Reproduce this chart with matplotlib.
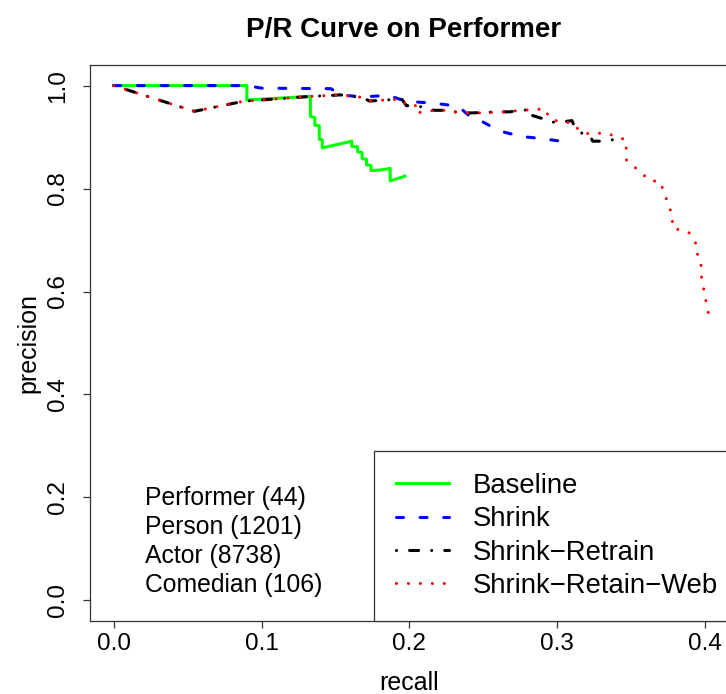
import matplotlib
matplotlib.use("Agg")
import matplotlib.pyplot as plt

plt.rcParams["font.family"] = ["Liberation Sans", "DejaVu Sans"]
plt.rcParams["lines.scale_dashes"] = False

# --- Data ------------------------------------------------------------------
baseline_recall = [0, 0.09, 0.09, 0.133, 0.133, 0.136, 0.136, 0.139, 0.139, 0.141,
                   0.141, 0.161, 0.161, 0.165, 0.165, 0.168, 0.168, 0.171, 0.171,
                   0.174, 0.174, 0.180, 0.187, 0.187, 0.197]
baseline_prec = [1.0, 1.0, 0.972, 0.979, 0.940, 0.938, 0.923, 0.922, 0.896, 0.895,
                 0.879, 0.892, 0.882, 0.881, 0.871, 0.870, 0.858, 0.857, 0.846,
                 0.845, 0.835, 0.836, 0.839, 0.815, 0.824]

shrink_recall = [0, 0.09, 0.10, 0.147, 0.153, 0.168, 0.186, 0.194, 0.200, 0.216,
                 0.233, 0.241, 0.247, 0.255, 0.262, 0.276, 0.290, 0.300, 0.309]
shrink_prec = [1.0, 1.0, 0.995, 0.994, 0.982, 0.978, 0.981, 0.973, 0.969, 0.966,
               0.960, 0.940, 0.934, 0.921, 0.911, 0.901, 0.897, 0.893, 0.887]

retrain_recall = [0, 0.0545, 0.0876, 0.133, 0.148, 0.153, 0.168, 0.173, 0.189, 0.195,
                  0.198, 0.205, 0.217, 0.224, 0.235, 0.243, 0.259, 0.268, 0.274,
                  0.283, 0.283, 0.290, 0.295, 0.302, 0.310, 0.312, 0.316, 0.322,
                  0.324, 0.332, 0.340]
retrain_prec = [1.0, 0.950, 0.9695, 0.979, 0.981, 0.982, 0.977, 0.970, 0.973, 0.973,
                0.961, 0.961, 0.952, 0.952, 0.947, 0.947, 0.949, 0.949, 0.952,
                0.953, 0.942, 0.936, 0.929, 0.929, 0.932, 0.918, 0.908, 0.905,
                0.892, 0.892, 0.896]

web_recall = [0, 0.0545, 0.0876, 0.133, 0.148, 0.153, 0.168, 0.173, 0.189, 0.195,
              0.198, 0.205, 0.205, 0.217, 0.224, 0.235, 0.243, 0.251, 0.259, 0.268,
              0.274, 0.283, 0.292, 0.2945, 0.302, 0.310, 0.316, 0.322, 0.332, 0.338,
              0.344, 0.3467, 0.3467, 0.363, 0.3696, 0.378, 0.378, 0.389, 0.395,
              0.395, 0.3977, 0.3977, 0.4007, 0.4034]
web_prec = [1.0, 0.950, 0.9695, 0.979, 0.981, 0.982, 0.977, 0.970, 0.973, 0.973,
            0.961, 0.961, 0.947, 0.952, 0.952, 0.947, 0.947, 0.947, 0.949, 0.949,
            0.952, 0.953, 0.955, 0.937, 0.929, 0.928, 0.910, 0.906, 0.908, 0.903,
            0.897, 0.894, 0.856, 0.815, 0.814, 0.747, 0.7235, 0.715, 0.688,
            0.663, 0.649, 0.626, 0.581, 0.543]

class_labels = ["Performer (44)", "Person (1201)", "Actor (8738)", "Comedian (106)"]
x_ticks = [0.0, 0.1, 0.2, 0.3, 0.4]
y_ticks = [0.0, 0.2, 0.4, 0.6, 0.8, 1.0]

# --- Figure -----------------------------------------------------------------
W, H = 726, 694
fig = plt.figure(figsize=(W / 100, H / 100), dpi=100)
ax_w = 638.4
ax = fig.add_axes([90.2 / W, 73 / H, ax_w / W, 556 / H])

LW = 2.2
ax.plot(baseline_recall, baseline_prec, color="#00FF00", lw=LW, label="Baseline")
ax.plot(shrink_recall, shrink_prec, color="#0000FF", lw=LW, label="Shrink",
        dashes=(5.0, 12.0), dash_capstyle="round")
ax.plot(retrain_recall, retrain_prec, color="black", lw=LW, label="Shrink\u2212Retrain",
        dashes=(0.01, 9.4, 6.5, 9.4), dash_capstyle="round")
ax.plot(web_recall, web_prec, color="#FF0000", lw=LW, label="Shrink\u2212Retain\u2212Web",
        dashes=(0.01, 8.6), dash_capstyle="round")

ax.set_xlim(-0.016, 0.416)
ax.set_ylim(-0.04, 1.04)
ax.set_xticks(x_ticks)
ax.set_xticklabels([f"{v:.1f}" for v in x_ticks])
ax.set_yticks(y_ticks)
ax.set_yticklabels([f"{v:.1f}" for v in y_ticks], rotation=90, va="center")
ax.tick_params(axis="both", direction="out", length=5, width=0.9, labelsize=17.5,
               color="#333333")
ax.tick_params(axis="x", pad=4)
ax.tick_params(axis="y", pad=10)
for sp in ax.spines.values():
    sp.set_linewidth(0.9)
    sp.set_color("#333333")

ax.set_title("P/R Curve on Performer", fontsize=20, fontweight="bold", pad=20,
             x=0.4915)
ax.set_xlabel("recall", fontsize=18, labelpad=11)
ax.set_ylabel("precision", fontsize=18, labelpad=5)

# R-style legend: its box sticks a little past the plot's right edge
leg = ax.legend(loc="lower right", bbox_to_anchor=(1 + 11.4 / ax_w, 0),
                fontsize=19.8, frameon=True, fancybox=False,
                edgecolor="#333333", framealpha=1, borderaxespad=0, borderpad=0.8,
                handlelength=1.93, handletextpad=0.85, labelspacing=0.27)
leg.get_frame().set_linewidth(0.9)

for i, txt in enumerate(class_labels):
    ax.text(0.0211, 0.199 - i * 0.0565, txt, fontsize=17.8, ha="left", va="center")

fig.savefig("out.png", dpi=100)
